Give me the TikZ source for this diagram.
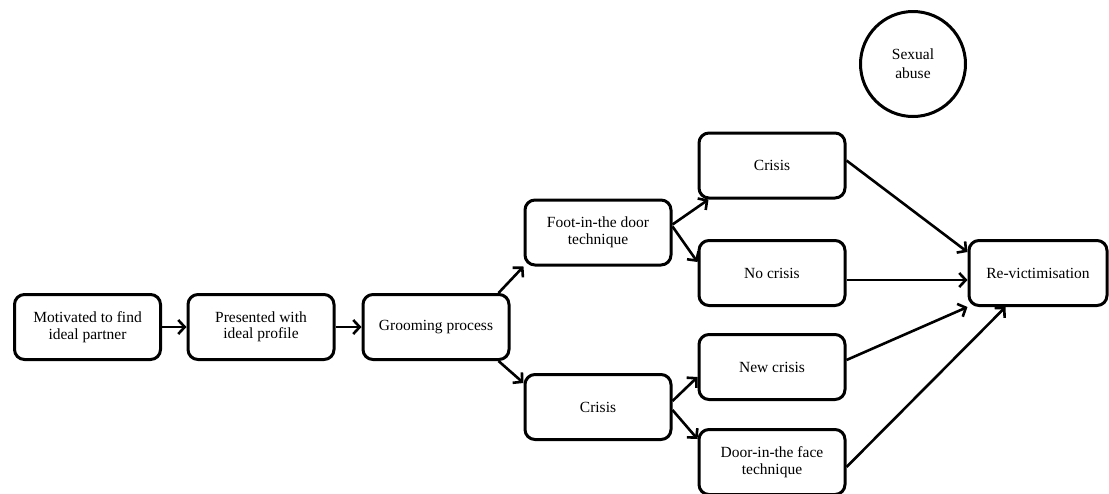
\documentclass[tikz,border=0pt]{standalone}
\usepackage{fontspec}
\setmainfont{Liberation Serif}
\usetikzlibrary{arrows.meta,calc}
\begin{document}
\begin{tikzpicture}[x=1pt,y=-1pt,
  box/.style={draw=black,line width=3pt,rounded corners=10pt,
    minimum width=146pt,minimum height=65pt,align=center,
    font=\fontsize{15.5}{16.5}\selectfont,inner sep=2pt},
  conn/.style={line width=2.6pt,-{Straight Barb[length=6.5pt,width=14pt,line width=2.6pt]}}]
\useasboundingbox (0,0) rectangle (1109,493);
\node[box] (b1) at (87.5,327) {Motivated to find\\ideal partner};
\node[box] (b2) at (261,327) {Presented with\\ideal profile};
\node[box] (g) at (436,327) {Grooming process};
\node[box] (foot) at (598,232.5) {Foot-in-the door\\technique};
\node[box] (cl) at (598,407) {Crisis};
\node[box] (ct) at (772,165.5) {Crisis};
\node[box] (nc) at (772,273) {No crisis};
\node[box] (new) at (772,367) {New crisis};
\node[box] (door) at (772,462) {Door-in-the face\\technique};
\node[box,minimum width=138pt] (rv) at (1038,273) {Re-victimisation};
\node[draw=black,line width=3pt,circle,minimum size=105pt,align=center,
  font=\fontsize{15.5}{19}\selectfont] (sa) at (913,64) {Sexual\\abuse};
\draw[conn] (b1) -- (b2);
\draw[conn] (b2) -- (g);
\draw[conn] ($(g.north east)+(-12,0)$) -- (foot.south west);
\draw[conn] ($(g.south east)+(-12,0)$) -- ($(cl.north west)+(0,10)$);
\draw[conn] ($(foot.east)+(0,-8)$) -- ($(ct.south west)+(11,0)$);
\draw[conn] ($(foot.east)+(0,-6)$) -- ($(nc.west)+(0,-11)$);
\draw[conn] ($(cl.east)+(0,-6)$) -- ($(new.west)+(0,10)$);
\draw[conn] ($(cl.east)+(0,3)$) -- ($(door.west)+(0,-23)$);
\draw[conn] ($(ct.east)+(0,-5)$) -- ($(rv.north west)+(0,13)$);
\draw[conn] ($(nc.east)+(0,7)$) -- ($(rv.west)+(0,7)$);
\draw[conn] ($(new.east)+(0,-7)$) -- ($(rv.south west)+(0,0)$);
\draw[conn] ($(door.east)+(0,5)$) -- ($(rv.south west)+(38,0)$);
\end{tikzpicture}
\end{document}
